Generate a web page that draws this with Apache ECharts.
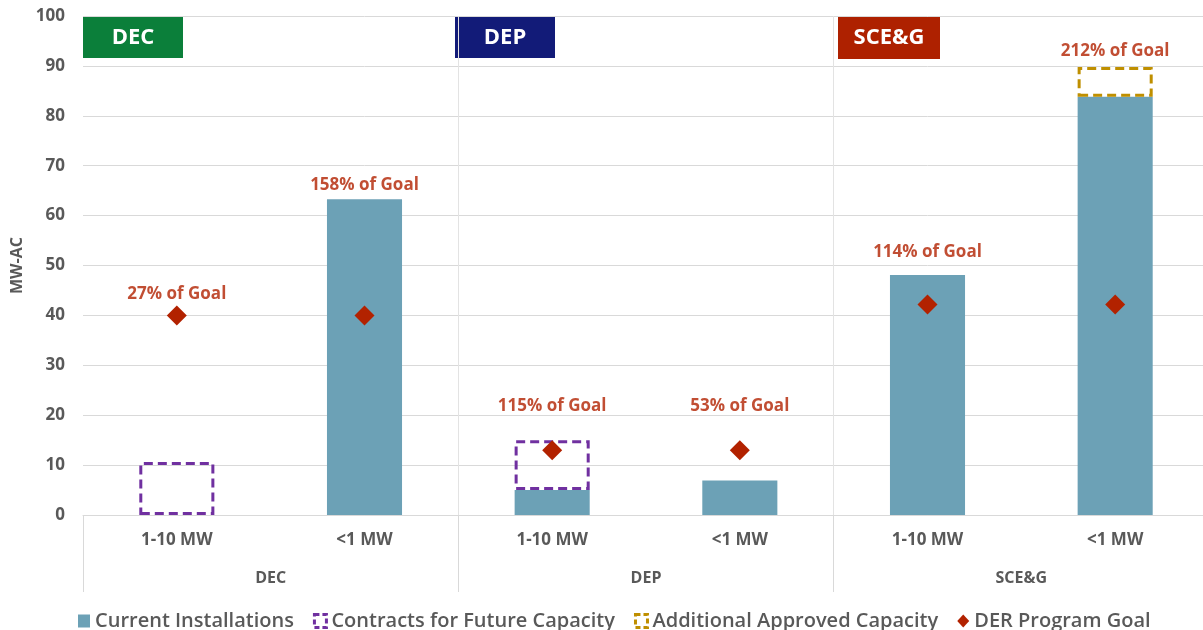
<!DOCTYPE html>
<html>
<head>
<meta charset="utf-8">
<script src="https://cdn.jsdelivr.net/npm/echarts@6/dist/echarts.min.js"></script>
<style>html,body{margin:0;padding:0;background:#fff;overflow:hidden}#c{width:1209px;height:630px}</style>
</head>
<body>
<div id="c"></div>
<script>
// ---- data ----
const categories = ['1-10 MW', '<1 MW', '1-10 MW', '<1 MW', '1-10 MW', '<1 MW'];
const groups = ['DEC', 'DEP', 'SCE&G'];
const currentInstallations = [0, 63.3, 5, 6.9, 48.1, 83.8];
const contractsFuture = [10.6, 0, 10, 0, 0, 0];
const additionalApproved = [0, 0, 0, 0, 0, 6];
const programGoal = [40, 40, 13, 13, 42.2, 42.2];
const goalPercent = ['27%', '158%', '115%', '53%', '114%', '212%'];
const yTicks = [0, 10, 20, 30, 40, 50, 60, 70, 80, 90, 100];

const FONT = 'Open Sans';
const GREY = '#595959';
const RED = '#B22200';

// label anchor = top of highest mark in each category
const stackTop = categories.map((c, i) => currentInstallations[i] + contractsFuture[i] + additionalApproved[i]);
const labelAnchor = categories.map((c, i) => Math.max(stackTop[i], programGoal[i]));
const labelDistance = [13, 5, 25, 35, 14, 7];

const noZero = (arr) => arr.map(v => (v === 0 ? '-' : v));

const chart = echarts.init(document.getElementById('c'), null, {renderer: 'canvas'});

const dashed = (color) => ({color: 'rgba(0,0,0,0)', borderColor: color, borderWidth: 3, borderType: [9, 5]});

chart.setOption({
  animation: false,
  textStyle: {fontFamily: FONT},
  grid: {left: 83, right: 0, top: 16, bottom: 115, containLabel: false},
  legend: {
    top: 606,
    left: 73,
    itemGap: 19,
    itemWidth: 12,
    itemHeight: 13,
    textStyle: {fontFamily: FONT, fontSize: 20, color: GREY, fontWeight: 600},
    data: [
      {name: 'Current Installations', icon: 'rect'},
      {name: 'Contracts for Future Capacity', icon: 'rect', itemStyle: {color: 'rgba(0,0,0,0)', borderColor: '#7030A0', borderWidth: 3, borderType: [5, 3]}},
      {name: 'Additional Approved Capacity', icon: 'rect', itemStyle: {color: 'rgba(0,0,0,0)', borderColor: '#BF8F00', borderWidth: 3, borderType: [5, 3]}},
      {name: 'DER Program Goal', icon: 'diamond'}
    ]
  },
  xAxis: [
    {
      type: 'category',
      data: categories,
      position: 'bottom',
      axisLine: {show: true, lineStyle: {color: '#d9d9d9', width: 1}},
      axisTick: {show: false},
      axisLabel: {margin: 17, fontSize: 17, fontWeight: 'bold', color: GREY, fontFamily: FONT},
      splitLine: {show: false}
    },
    {
      type: 'category',
      data: groups,
      position: 'bottom',
      axisLine: {show: false},
      axisTick: {show: true, length: 77, lineStyle: {color: '#d9d9d9', width: 1}},
      axisLabel: {margin: 55, fontSize: 16, fontWeight: 'bold', color: GREY, fontFamily: FONT},
      splitLine: {show: true, showMinLine: false, showMaxLine: false, lineStyle: {color: '#e3e3e3', width: 1}}
    }
  ],
  yAxis: {
    type: 'value',
    min: yTicks[0],
    max: yTicks[yTicks.length - 1],
    interval: yTicks[1] - yTicks[0],
    name: 'MW-AC',
    nameLocation: 'middle',
    nameGap: 57,
    nameRotate: 90,
    nameTextStyle: {fontSize: 16, fontWeight: 'bold', color: GREY, fontFamily: FONT},
    axisLine: {show: false},
    axisTick: {show: false},
    axisLabel: {margin: 18, fontSize: 17, fontWeight: 'bold', color: GREY, fontFamily: FONT},
    splitLine: {lineStyle: {color: '#d9d9d9', width: 1}}
  },
  series: [
    {
      name: 'Current Installations', type: 'bar', stack: 'a', xAxisIndex: 0,
      barWidth: '40%', data: noZero(currentInstallations),
      itemStyle: {color: '#6CA1B6'}
    },
    {
      name: 'Contracts for Future Capacity', type: 'bar', stack: 'a', xAxisIndex: 0,
      barWidth: '40%', data: noZero(contractsFuture),
      itemStyle: dashed('#7030A0')
    },
    {
      name: 'Additional Approved Capacity', type: 'bar', stack: 'a', xAxisIndex: 0,
      barWidth: '40%', data: noZero(additionalApproved),
      itemStyle: dashed('#BF8F00')
    },
    {
      name: 'DER Program Goal', type: 'scatter', xAxisIndex: 0,
      symbol: 'diamond', symbolSize: 20, data: programGoal,
      itemStyle: {color: RED, opacity: 1}, z: 5
    },
    {
      name: 'goalLabels', type: 'scatter', xAxisIndex: 0,
      symbolSize: 0, silent: true,
      data: labelAnchor.map((v, i) => ({
        value: v,
        label: {show: true, position: 'top', distance: labelDistance[i],
          formatter: goalPercent[i] + ' of Goal',
          fontSize: 17, fontWeight: 'bold', color: RED, fontFamily: FONT}
      })),
      z: 6
    }
  ],
  graphic: [
    {type: 'group', left: 83, top: 17, children: [
      {type: 'rect', shape: {x: 0, y: 0, width: 100, height: 41}, style: {fill: '#0B7F3A'}},
      {type: 'text', x: 50, y: 21, style: {text: groups[0], fill: '#fff', font: 'bold 22px "Open Sans"', align: 'center', verticalAlign: 'middle'}}
    ]},
    {type: 'group', left: 455, top: 17, children: [
      {type: 'rect', shape: {x: 0, y: 0, width: 100, height: 41}, style: {fill: '#121B78'}},
      {type: 'text', x: 50, y: 21, style: {text: groups[1], fill: '#fff', font: 'bold 22px "Open Sans"', align: 'center', verticalAlign: 'middle'}}
    ]},
    {type: 'group', left: 838, top: 17, children: [
      {type: 'rect', shape: {x: 0, y: 0, width: 102, height: 42}, style: {fill: '#AE2100'}},
      {type: 'text', x: 51, y: 21, style: {text: groups[2], fill: '#fff', font: 'bold 22px "Open Sans"', align: 'center', verticalAlign: 'middle'}}
    ]}
  ]
});
</script>
</body>
</html>
